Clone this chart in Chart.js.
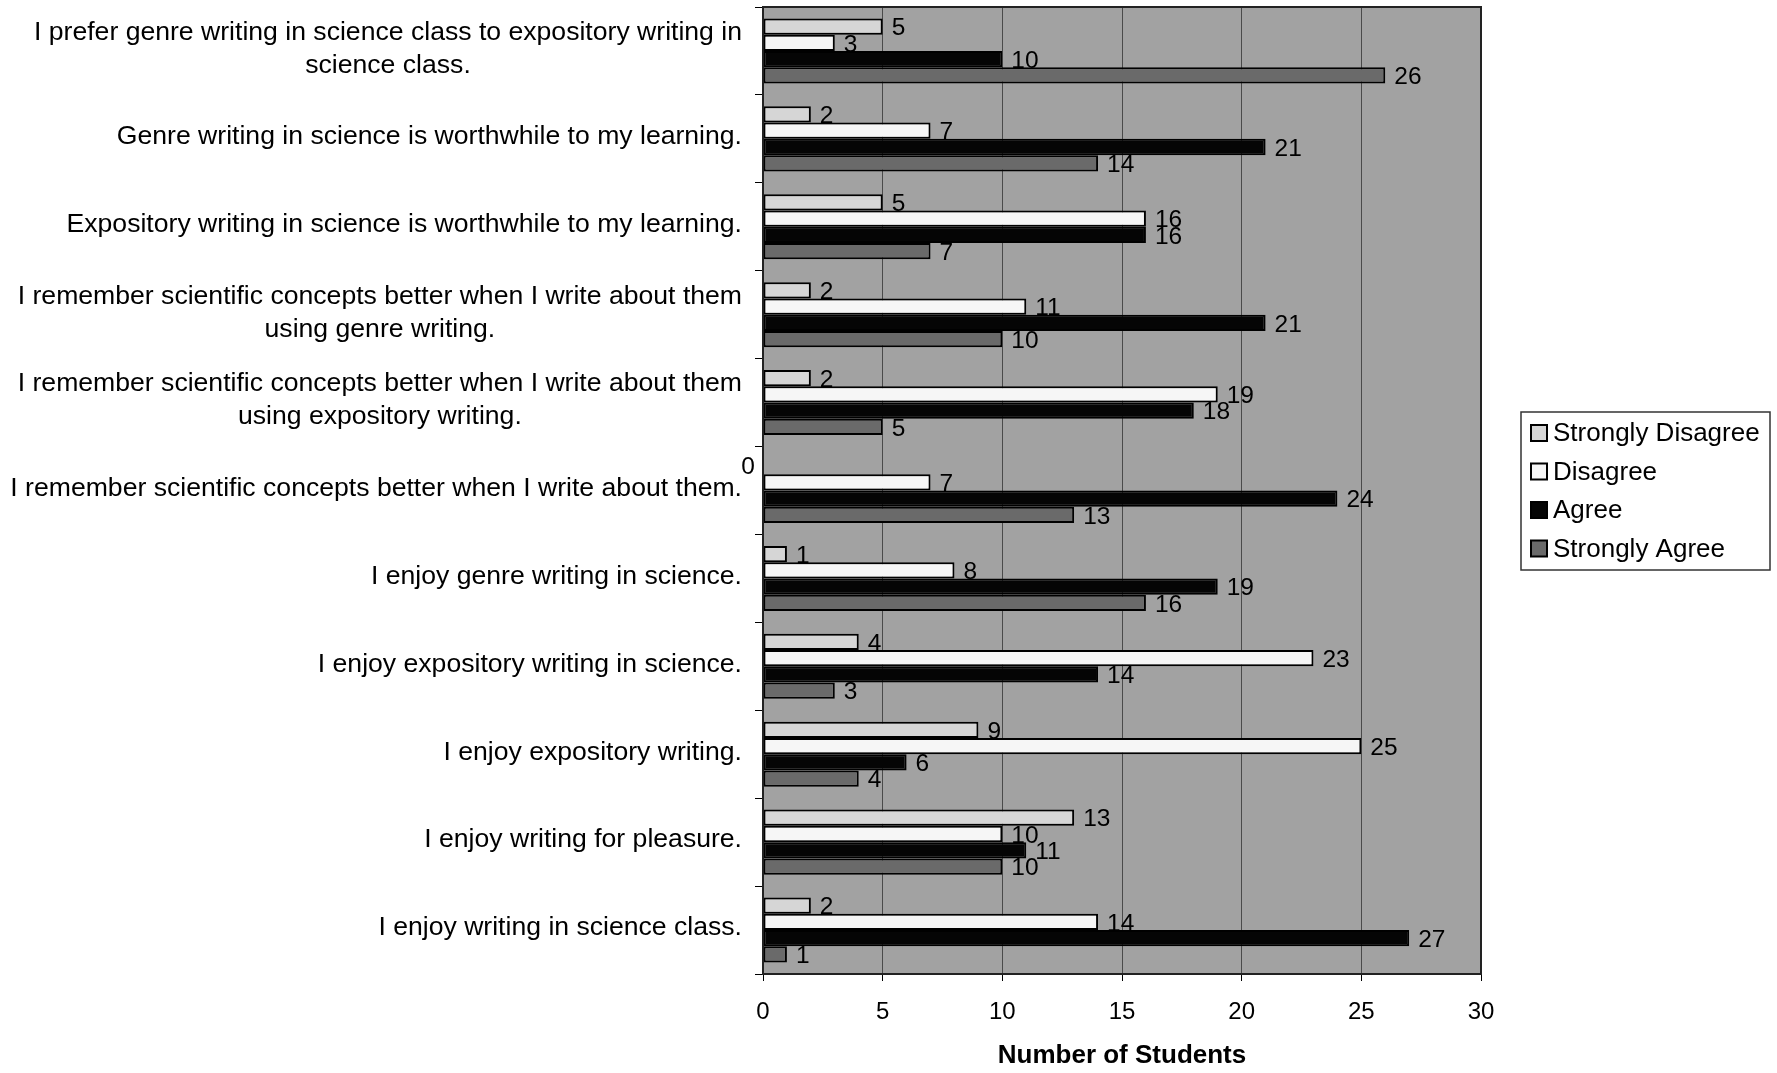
<!DOCTYPE html>
<html>
<head>
<meta charset="utf-8">
<script src="https://cdn.jsdelivr.net/npm/chart.js@4/dist/chart.umd.min.js"></script>
<style>
  html, body { margin: 0; padding: 0; background: #fff; }
  #wrap { width: 1777px; height: 1073px; position: relative; }
</style>
</head>
<body>
<div id="wrap"><canvas id="chart"></canvas></div>
<script>
const statements = [
    ['I prefer genre writing in science class to expository writing in', 'science class.'],
    'Genre writing in science is worthwhile to my learning.',
    'Expository writing in science is worthwhile to my learning.',
    ['I remember scientific concepts better when I write about them', 'using genre writing.'],
    ['I remember scientific concepts better when I write about them', 'using expository writing.'],
    'I remember scientific concepts better when I write about them.',
    'I enjoy genre writing in science.',
    'I enjoy expository writing in science.',
    'I enjoy expository writing.',
    'I enjoy writing for pleasure.',
    'I enjoy writing in science class.'
];

const stronglyDisagree = [5, 2, 5, 2, 2, 0, 1, 4, 9, 13, 2];
const disagree         = [3, 7, 16, 11, 19, 7, 8, 23, 25, 10, 14];
const agree            = [10, 21, 16, 21, 18, 24, 19, 14, 6, 11, 27];
const stronglyAgree    = [26, 14, 7, 10, 5, 13, 16, 3, 4, 10, 1];

const xTicks = [0, 5, 10, 15, 20, 25, 30];

const FONT = 'Liberation Sans, Arial, sans-serif';

// gray plot background + frame
const plotFrame = {
    id: 'plotFrame',
    beforeDraw(chart) {
        const { ctx, chartArea: a } = chart;
        ctx.save();
        ctx.fillStyle = '#a2a2a2';
        ctx.fillRect(a.left, a.top, a.right - a.left, a.bottom - a.top);
        ctx.restore();
    },
    afterDraw(chart) {
        const { ctx, chartArea: a } = chart;
        ctx.save();
        ctx.strokeStyle = '#222';
        ctx.lineWidth = 2;
        ctx.strokeRect(a.left, a.top, a.right - a.left, a.bottom - a.top);
        ctx.restore();
    }
};

// value labels just past the bar ends
const valueLabels = {
    id: 'valueLabels',
    afterDatasetsDraw(chart) {
        const ctx = chart.ctx;
        ctx.save();
        ctx.font = '24.5px ' + FONT;
        ctx.fillStyle = '#000';
        ctx.textBaseline = 'middle';
        chart.data.datasets.forEach((ds, di) => {
            chart.getDatasetMeta(di).data.forEach((bar, i) => {
                const v = ds.data[i];
                if (v === 0) {
                    ctx.textAlign = 'right';
                    ctx.fillText(v, bar.x - 8, bar.y + 1);
                } else {
                    ctx.textAlign = 'left';
                    ctx.fillText(v, bar.x + 9, bar.y + 2);
                }
            });
        });
        ctx.restore();
    }
};

// category labels: longest line flush to the axis, lines centred on each other
const categoryLabels = {
    id: 'categoryLabels',
    afterDraw(chart) {
        const ctx = chart.ctx;
        const yScale = chart.scales.y;
        const rightEdge = chart.chartArea.left - 21;
        ctx.save();
        ctx.font = '26.6px ' + FONT;
        ctx.fillStyle = '#000';
        ctx.textAlign = 'center';
        ctx.textBaseline = 'middle';
        statements.forEach((label, i) => {
            const lines = Array.isArray(label) ? label : [label];
            const widest = Math.max(...lines.map(l => ctx.measureText(l).width));
            const cx = rightEdge - widest / 2;
            const cy = yScale.getPixelForTick(i) - 2;
            const lh = 33;
            lines.forEach((l, k) => {
                ctx.fillText(l, cx, cy + (k - (lines.length - 1) / 2) * lh);
            });
        });
        ctx.restore();
    }
};

// legend with a border, drawn at the right
const boxedLegend = {
    id: 'boxedLegend',
    afterDraw(chart) {
        const ctx = chart.ctx;
        const box = { x: 1521, y: 412, w: 249, h: 158 };
        ctx.save();
        ctx.strokeStyle = '#333';
        ctx.lineWidth = 1.5;
        ctx.strokeRect(box.x, box.y, box.w, box.h);
        ctx.font = '26px ' + FONT;
        ctx.textBaseline = 'middle';
        ctx.textAlign = 'left';
        chart.data.datasets.forEach((ds, i) => {
            const cy = 433 + i * 38.5;
            ctx.fillStyle = ds.backgroundColor;
            ctx.fillRect(1531, cy - 8, 16, 16);
            ctx.strokeStyle = '#000';
            ctx.lineWidth = 2;
            ctx.strokeRect(1531, cy - 8, 16, 16);
            ctx.fillStyle = '#000';
            ctx.fillText(ds.label, 1553, cy + 1);
        });
        ctx.restore();
    }
};

const chartCtx = document.getElementById('chart').getContext('2d');

const chart = new Chart(chartCtx, {
    type: 'bar',
    data: {
        labels: statements,
        datasets: [
            { label: 'Strongly Disagree', data: stronglyDisagree, backgroundColor: '#d6d6d6' },
            { label: 'Disagree', data: disagree, backgroundColor: '#f6f6f6' },
            { label: 'Agree', data: agree, backgroundColor: '#050505' },
            { label: 'Strongly Agree', data: stronglyAgree, backgroundColor: '#6a6a6a' }
        ]
    },
    options: {
        indexAxis: 'y',
        responsive: true,
        maintainAspectRatio: false,
        animation: false,
        layout: { padding: { top: 7, right: 296, bottom: 0, left: 0 } },
        datasets: {
            bar: {
                categoryPercentage: 0.74,
                barPercentage: 1.0,
                borderColor: '#000',
                borderWidth: 2,
                borderSkipped: false
            }
        },
        plugins: {
            legend: { display: false },
            tooltip: { enabled: false }
        },
        scales: {
            x: {
                min: 0,
                max: 30,
                afterBuildTicks(scale) {
                    scale.ticks = xTicks.map(v => ({ value: v }));
                },
                afterFit(scale) { scale.height = 99; },
                grid: {
                    color: '#4a4a4a',
                    lineWidth: 1,
                    tickColor: '#000',
                    tickLength: 7
                },
                border: { color: '#000', width: 2 },
                ticks: {
                    padding: 17,
                    color: '#000',
                    font: { family: FONT, size: 24 }
                },
                title: {
                    display: true,
                    text: 'Number of Students',
                    color: '#000',
                    padding: { top: 0, bottom: 2 },
                    font: { family: FONT, size: 26, weight: 'bold' }
                }
            },
            y: {
                afterFit(scale) { scale.width = 763; },
                grid: {
                    drawOnChartArea: false,
                    tickColor: '#000',
                    tickLength: 8
                },
                border: { color: '#000', width: 2 },
                ticks: { display: false }
            }
        }
    },
    plugins: [plotFrame, valueLabels, categoryLabels, boxedLegend]
});
</script>
</body>
</html>
